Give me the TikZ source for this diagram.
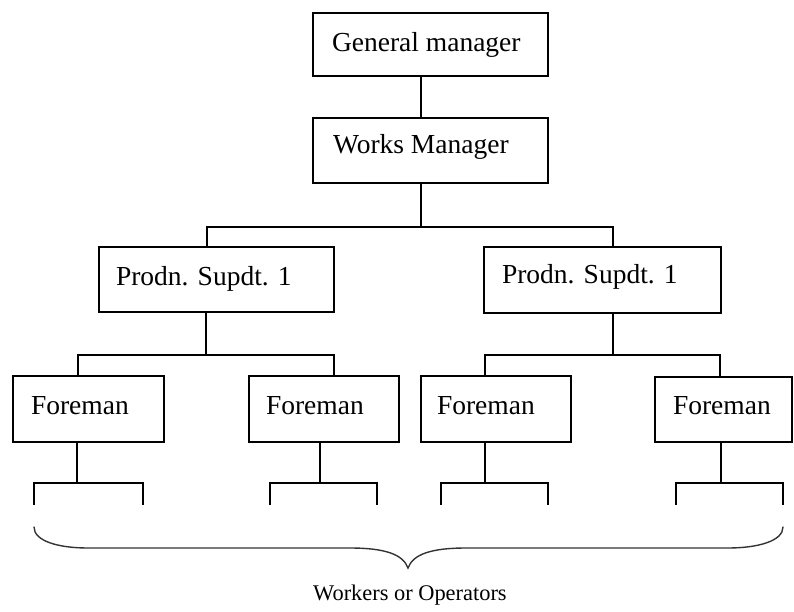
\documentclass[tikz,border=0pt]{standalone}
\usepackage{fontspec}
\setmainfont{Liberation Serif}
\begin{document}
\begin{tikzpicture}[x=1pt,y=-1pt,
  box/.style={draw=black, line width=1.3pt, inner sep=0pt, outer sep=0pt, anchor=north west,
              font=\fontsize{27.5}{30}\selectfont},
  conn/.style={draw=black, line width=1.3pt},
  bracestyle/.style={draw=black!80, line width=1.4pt, line cap=round},
  note/.style={anchor=base west, inner sep=0pt, font=\fontsize{22.4}{26}\selectfont}]
\useasboundingbox (0,0) rectangle (794,612);
% boxes
\node[box, text height=39pt, text depth=24pt] (gm) at (313,13) {\makebox[235pt][l]{\hspace*{19pt}General manager}};
\node[box, text height=36pt, text depth=29pt] (wm) at (313,118) {\makebox[235pt][l]{\hspace*{20pt}Works Manager}};
\node[box, text height=38pt, text depth=27pt] (p1) at (99,247) {\makebox[235pt][l]{\hspace*{17pt}Prodn. Supdt. 1}};
\node[box, text height=36pt, text depth=30pt] (p2) at (484,247) {\makebox[237pt][l]{\hspace*{18pt}Prodn. Supdt. 1}};
\node[box, text height=38pt, text depth=28pt] (f1) at (13,376) {\makebox[151pt][l]{\hspace*{18pt}Foreman}};
\node[box, text height=38pt, text depth=28pt] (f2) at (249,376) {\makebox[150pt][l]{\hspace*{17pt}Foreman}};
\node[box, text height=38pt, text depth=28pt] (f3) at (421,376) {\makebox[150pt][l]{\hspace*{16pt}Foreman}};
\node[box, text height=37pt, text depth=28pt] (f4) at (655,377) {\makebox[137pt][l]{\hspace*{18pt}Foreman}};
% junction coordinates
\coordinate (tA) at (421,227); \coordinate (tAl) at (207,227); \coordinate (tAr) at (613,227);
\coordinate (tB) at (206,355); \coordinate (tBl) at (78,355);  \coordinate (tBr) at (334,355);
\coordinate (tC) at (613,355); \coordinate (tCl) at (485,355); \coordinate (tCr) at (720,355);
\coordinate (w1) at (77,483);  \coordinate (w1l) at (34,483);  \coordinate (w1r) at (143,483);
\coordinate (w2) at (320,483); \coordinate (w2l) at (270,483); \coordinate (w2r) at (377,483);
\coordinate (w3) at (485,483); \coordinate (w3l) at (441,483); \coordinate (w3r) at (548,483);
\coordinate (w4) at (721,483); \coordinate (w4l) at (676,483); \coordinate (w4r) at (783,483);
% connectors
\draw[conn] (tA |- gm.south) -- (tA |- wm.north);
\draw[conn] (tA |- wm.south) -- (tA);
\draw[conn] (tAl |- p1.north) -- (tAl) -- (tAr) -- (tAr |- p2.north);
\draw[conn] (tB |- p1.south) -- (tB);
\draw[conn] (tBl |- f1.north) -- (tBl) -- (tBr) -- (tBr |- f2.north);
\draw[conn] (tC |- p2.south) -- (tC);
\draw[conn] (tCl |- f3.north) -- (tCl) -- (tCr) -- (tCr |- f4.north);
% worker brackets
\draw[conn] (w1 |- f1.south) -- (w1);
\draw[conn] (w2 |- f2.south) -- (w2);
\draw[conn] (w3 |- f3.south) -- (w3);
\draw[conn] (w4 |- f4.south) -- (w4);
\draw[conn] (w1l) ++(0,22) -- (w1l) -- (w1r) -- ++(0,22);
\draw[conn] (w2l) ++(0,22) -- (w2l) -- (w2r) -- ++(0,22);
\draw[conn] (w3l) ++(0,22) -- (w3l) -- (w3r) -- ++(0,22);
\draw[conn] (w4l) ++(0,22) -- (w4l) -- (w4r) -- ++(0,22);
% brace
\draw[bracestyle] (34,527) .. controls (34,541) and (58,548) .. (88,548) -- (350,548)
  .. controls (384,548) and (403,554) .. (408,568)
  .. controls (413,554) and (432,548) .. (466,548) -- (728,548)
  .. controls (758,548) and (783,541) .. (783,527);
\node[note] (wo) at (313,600) {Workers or Operators};
\end{tikzpicture}
\end{document}
